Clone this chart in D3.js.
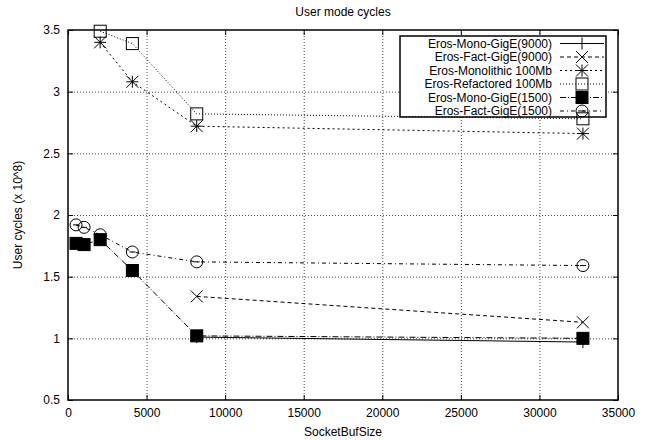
<!DOCTYPE html>
<html>
<head>
<meta charset="utf-8">
<script src="https://cdn.jsdelivr.net/npm/d3@7"></script>
<style>
  body { margin: 0; background: #fff; }
  text { font-family: "Liberation Sans", Arial, sans-serif; font-size: 12px; fill: #000; }
</style>
</head>
<body>
<svg id="chart" width="645" height="440"></svg>
<script>
// data (user cycles, x 10^8)
const xTicks = [0, 5000, 10000, 15000, 20000, 25000, 30000, 35000];
const yTicks = [0.5, 1, 1.5, 2, 2.5, 3, 3.5];

const monoGig9000X = [8192, 32768];
const monoGig9000Y = [1.01, 0.97];
const factGig9000X = [8192, 32768];
const factGig9000Y = [1.34, 1.13];
const monolithicX = [2048, 4096, 8192, 32768];
const monolithicY = [3.40, 3.08, 2.72, 2.66];
const refactoredX = [2048, 4096, 8192, 32768];
const refactoredY = [3.49, 3.39, 2.82, 2.78];
const monoGig1500X = [512, 1024, 2048, 4096, 8192, 32768];
const monoGig1500Y = [1.77, 1.76, 1.80, 1.55, 1.02, 1.00];
const factGig1500X = [512, 1024, 2048, 4096, 8192, 32768];
const factGig1500Y = [1.92, 1.90, 1.84, 1.70, 1.62, 1.59];

const seriesNames = ["Eros-Mono-GigE(9000)", "Eros-Fact-GigE(9000)", "Eros-Monolithic 100Mb",
  "Eros-Refactored 100Mb", "Eros-Mono-GigE(1500)", "Eros-Fact-GigE(1500)"];

const series = [
  { name: seriesNames[0], xs: monoGig9000X, ys: monoGig9000Y, dash: null, mark: "plus" },
  { name: seriesNames[1], xs: factGig9000X, ys: factGig9000Y, dash: "4,3", mark: "cross" },
  { name: seriesNames[2], xs: monolithicX, ys: monolithicY, dash: "2,3", mark: "star" },
  { name: seriesNames[3], xs: refactoredX, ys: refactoredY, dash: "1,2", mark: "box" },
  { name: seriesNames[4], xs: monoGig1500X, ys: monoGig1500Y, dash: "6,2,1,2", mark: "fbox" },
  { name: seriesNames[5], xs: factGig1500X, ys: factGig1500Y, dash: "4,3,1,3", mark: "circle" }
];

const svg = d3.select("#chart");
const margin = { left: 68, right: 27, top: 30, bottom: 40 };
const W = 645, H = 440;

const x = d3.scaleLinear().domain([0, 35000]).range([margin.left, W - margin.right]);
const y = d3.scaleLinear().domain([0.5, 3.5]).range([H - margin.bottom, margin.top]);

// grid
const grid = svg.append("g").attr("stroke", "#444").attr("stroke-dasharray", "1,2").attr("stroke-width", 1);
grid.selectAll("line.gx").data(xTicks.slice(1, -1)).enter().append("line")
  .attr("x1", d => x(d) + 0.5).attr("x2", d => x(d) + 0.5)
  .attr("y1", y(0.5)).attr("y2", y(3.5));
grid.selectAll("line.gy").data(yTicks.slice(1, -1)).enter().append("line")
  .attr("x1", x(0)).attr("x2", x(35000))
  .attr("y1", d => y(d) + 0.5).attr("y2", d => y(d) + 0.5);

// axes with inward ticks, mirrored
const tick = 5;
svg.append("g").attr("transform", `translate(0,${y(0.5)})`)
  .call(d3.axisBottom(x).tickValues(xTicks).tickSizeInner(-tick).tickSizeOuter(0).tickPadding(8).tickFormat(d3.format("d")))
  .call(g => g.select(".domain").remove());
svg.append("g").attr("transform", `translate(0,${y(3.5)})`)
  .call(d3.axisTop(x).tickValues(xTicks).tickSizeInner(-tick).tickSizeOuter(0).tickFormat(""))
  .call(g => g.select(".domain").remove());
svg.append("g").attr("transform", `translate(${x(0)},0)`)
  .call(d3.axisLeft(y).tickValues(yTicks).tickSizeInner(-tick).tickSizeOuter(0).tickPadding(8).tickFormat(d => d))
  .call(g => g.select(".domain").remove());
svg.append("g").attr("transform", `translate(${x(35000)},0)`)
  .call(d3.axisRight(y).tickValues(yTicks).tickSizeInner(-tick).tickSizeOuter(0).tickFormat(""))
  .call(g => g.select(".domain").remove());
svg.selectAll(".tick text").attr("font-size", 12).attr("font-family", "Liberation Sans, Arial, sans-serif");
svg.selectAll(".tick line").attr("stroke", "#000");

svg.append("rect")
  .attr("x", x(0)).attr("y", y(3.5))
  .attr("width", x(35000) - x(0)).attr("height", y(0.5) - y(3.5))
  .attr("fill", "none").attr("stroke", "#000").attr("stroke-width", 1.5);

// titles
svg.append("text").attr("x", (x(0) + x(35000)) / 2).attr("y", 16).attr("text-anchor", "middle").text("User mode cycles");
svg.append("text").attr("x", (x(0) + x(35000)) / 2).attr("y", 436).attr("text-anchor", "middle").text("SocketBufSize");
svg.append("text").attr("transform", `translate(22,${(y(0.5) + y(3.5)) / 2}) rotate(-90)`)
  .attr("text-anchor", "middle").text("User cycles (x 10^8)");

// legend box (opaque over grid)
const lg = { x: 400, y: 36, w: 206, h: 81, row: 13.5 };
svg.append("rect").attr("x", lg.x).attr("y", lg.y).attr("width", lg.w).attr("height", lg.h)
  .attr("fill", "#fff").attr("stroke", "#000").attr("stroke-width", 1.5);

function drawMark(g, type, cx, cy) {
  const s = 6;
  if (type === "plus") {
    g.append("path").attr("d", `M${cx - s},${cy}H${cx + s}M${cx},${cy - s}V${cy + s}`).attr("stroke", "#000").attr("fill", "none");
  } else if (type === "cross") {
    g.append("path").attr("d", `M${cx - s},${cy - s}L${cx + s},${cy + s}M${cx - s},${cy + s}L${cx + s},${cy - s}`).attr("stroke", "#000").attr("fill", "none");
  } else if (type === "star") {
    g.append("path").attr("d", `M${cx - s},${cy}H${cx + s}M${cx},${cy - s}V${cy + s}M${cx - s},${cy - s}L${cx + s},${cy + s}M${cx - s},${cy + s}L${cx + s},${cy - s}`).attr("stroke", "#000").attr("fill", "none");
  } else if (type === "box") {
    g.append("rect").attr("x", cx - s).attr("y", cy - s).attr("width", 2 * s).attr("height", 2 * s).attr("stroke", "#000").attr("fill", "none");
  } else if (type === "fbox") {
    g.append("rect").attr("x", cx - s).attr("y", cy - s).attr("width", 2 * s).attr("height", 2 * s).attr("stroke", "#000").attr("fill", "#000");
  } else if (type === "circle") {
    g.append("circle").attr("cx", cx).attr("cy", cy).attr("r", s).attr("stroke", "#000").attr("fill", "none");
    g.append("path").attr("d", `M${cx - 3},${cy}H${cx + 3}`).attr("stroke", "#000");
  }
}

const line = d3.line().x(d => x(d[0])).y(d => y(d[1]));

series.forEach((s, i) => {
  const pts = s.xs.map((v, j) => [v, s.ys[j]]);
  const g = svg.append("g");
  g.append("path").datum(pts).attr("d", line)
    .attr("fill", "none").attr("stroke", "#000").attr("stroke-width", 1)
    .attr("stroke-dasharray", s.dash);
  pts.forEach(p => drawMark(g, s.mark, x(p[0]), y(p[1])));

  // legend entry
  const ry = lg.y + 7.5 + i * lg.row;
  svg.append("text").attr("x", 552).attr("y", ry + 4).attr("text-anchor", "end").text(s.name);
  svg.append("line").attr("x1", 560).attr("x2", 604).attr("y1", ry).attr("y2", ry)
    .attr("stroke", "#000").attr("stroke-dasharray", s.dash);
  drawMark(svg.append("g"), s.mark, 582, ry);
});
</script>
</body>
</html>
